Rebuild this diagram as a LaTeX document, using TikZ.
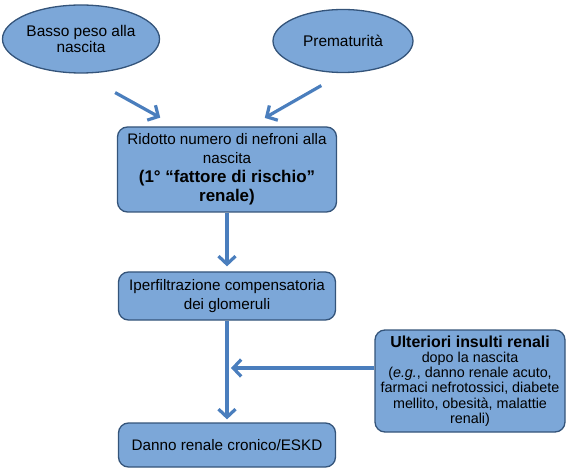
\documentclass[tikz,border=0pt]{standalone}
\usepackage{fontspec}
\setmainfont{Liberation Sans}
\usepackage{tikz}
\usetikzlibrary{arrows.meta,shapes.geometric}

\definecolor{boxblue}{RGB}{124,167,216}
\definecolor{edgeblue}{RGB}{52,84,122}
\definecolor{arrblue}{RGB}{74,126,189}

\newcommand{\bigbf}{\bfseries\fontsize{17}{19}\selectfont}
\newcommand{\headbf}{\bfseries\fontsize{16}{17}\selectfont}
\newcommand{\smalltxt}{\mdseries\fontsize{14.4}{15.2}\selectfont}

\begin{document}
\begin{tikzpicture}
  [x=1bp,y=-1bp,
   every node/.style={fill=boxblue,draw=edgeblue,line width=1.3bp,align=center,inner sep=1bp},
   oval/.style={ellipse,font=\fontsize{15.5}{17}\selectfont},
   card/.style={rounded corners=10bp,font=\fontsize{15.3}{19}\selectfont},
   arr/.style={arrblue,line width=3.2bp,-{Straight Barb[length=8bp,width=17bp,line width=3.2bp]}}]
  \useasboundingbox (0,0) rectangle (566,469);

  \node [oval,minimum width=148bp,minimum height=68bp] (low) at (81,39) {Basso peso alla\\nascita};
  \node [oval,minimum width=140bp,minimum height=63bp] (prem) at (343,41) {Prematurità};
  \node [card,minimum width=219bp,minimum height=85bp] (red) at (227,169.5)
    {Ridotto numero di nefroni alla\\nascita\\\bigbf (1° “fattore di rischio”\\\bigbf renale)};
  \node [card,minimum width=217bp,minimum height=48bp] (hyp) at (227,296) {Iperfiltrazione compensatoria\\dei glomeruli};
  \node [card,minimum width=217bp,minimum height=44bp] (ckd) at (227,445) {Danno renale cronico/ESKD};
  \node [card,font=\smalltxt,minimum width=190bp,minimum height=102bp] (ins) at (470,381)
    {\headbf Ulteriori insulti renali\\\smalltxt dopo la nascita\\(\textit{e.g.}, danno renale acuto,\\farmaci nefrotossici, diabete\\mellito, obesità, malattie\\renali)};

  \draw [arr,shorten <=39bp,shorten >=18bp] (low.south) -- ([xshift=-51bp]red.north);
  \draw [arr,shorten <=25bp,shorten >=17bp] (prem.south) -- ([xshift=23bp]red.north);
  \foreach \from/\to/\gap in {red/hyp/5,hyp/ckd/3}
    \draw [arr,shorten >=\gap bp] (\from.south) -- (\to.north);
  \draw [arr,shorten >=4bp] ([yshift=13bp]ins.west) -- ([yshift=13bp]ins.west -| hyp.south);

\end{tikzpicture}
\end{document}
